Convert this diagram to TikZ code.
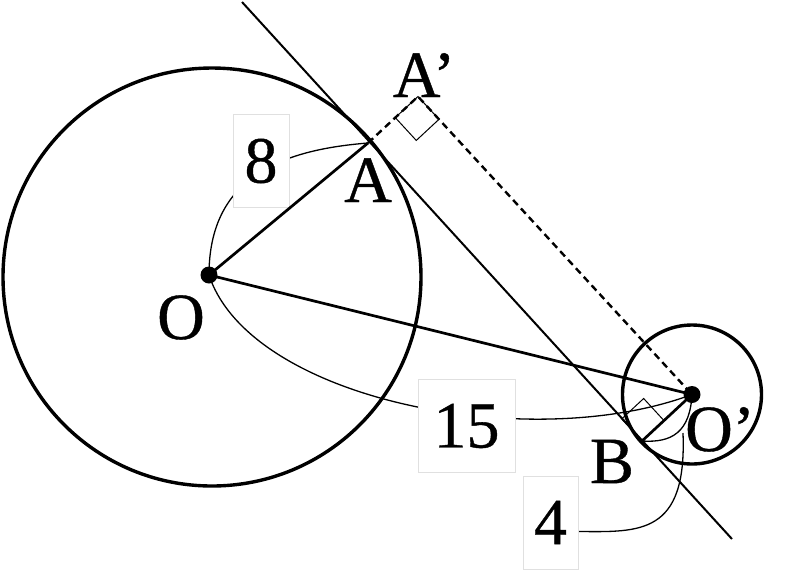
\documentclass[tikz,border=0pt]{standalone}
\usepackage{fontspec}
\setmainfont{Liberation Serif}[UprightFeatures={FakeBold=0.6}]
\usetikzlibrary{calc}
\pgfdeclarelayer{background}
\pgfsetlayers{background,main}
\begin{document}
\begin{tikzpicture}[x=0.5pt,y=-0.5pt,
  lbl/.style={font=\fontsize{33}{36}\selectfont, inner sep=0pt, anchor=base},
  numbox/.style={draw=black!12, line width=0.5pt, fill=white, font=\fontsize{33}{36}\selectfont, minimum height=46.5pt, inner sep=0pt},
  leader/.style={line width=0.65pt},
  geo/.style={line width=1.35pt},
  circ/.style={line width=1.7pt},
  tang/.style={line width=1pt},
  dsh/.style={line width=1.2pt, dash pattern=on 3.5pt off 2.3pt},
  ra/.style={line width=0.5pt}]
\useasboundingbox (0,0) rectangle (800,570);
% points
\coordinate (O) at (209,275);
\coordinate (Ocen) at (212,277);
\coordinate (A) at (368,143);
\coordinate (Ap) at (418,96.5);
\coordinate (Op) at (692,394.5);
\coordinate (B) at (642,441);
\coordinate (T1) at (242,2);
\coordinate (T2) at (732,539);
\coordinate (m4) at (683,433);
% number boxes
\node[numbox, minimum width=28pt] (n8) at (261,161) {8};
\node[numbox, minimum width=48.5pt] (n15) at (466.5,426) {15};
\node[numbox, minimum width=27.5pt] (n4) at (550.5,522.5) {4};
% leaders (behind boxes)
\begin{pgfonlayer}{background}
\draw[leader] (O) .. controls (209,178) and (280,150) .. (A);
\draw[leader] (O) .. controls (250,400) and (530,455) .. (Op);
\draw[leader] (B) .. controls (672,443) and (690,432) .. (Op);
\draw[leader] (m4) .. controls (687,535) and (640,532) .. ([yshift=-4.5pt]n4.east);
\end{pgfonlayer}
% circles
\draw[circ] (Ocen) circle[radius=104.5pt];
\draw[circ] (Op) circle[radius=34.75pt];
% tangent line
\draw[tang] (T1) -- (T2);
% radii and center line
\draw[geo] (O) -- (A);
\draw[geo] (O) -- (Op);
\draw[geo] (Op) -- (B);
% dashed construction
\draw[dsh] (A) -- (Ap) -- (Op);
% right angle marks
\coordinate (p1) at ($(Ap)!15.5pt!(A)$);
\coordinate (p2) at ($(Ap)!15.5pt!(Op)$);
\draw[ra] (Ap) -- (p1) -- ($(p1)+(p2)-(Ap)$) -- (p2) -- cycle;
\coordinate (q1) at ($(B)!15pt!(A)$);
\coordinate (q2) at ($(B)!15pt!(Op)$);
\draw[ra] (B) -- (q1) -- ($(q1)+(q2)-(B)$) -- (q2) -- cycle;
% dots
\fill (O) circle[radius=4.25pt];
\fill (Op) circle[radius=4.25pt];
% labels
\node[lbl] (lA) at (368,202) {A};
\node[lbl] (lAp) at (424,97) {A’};
\node[lbl] (lO) at (181,339) {O};
\node[lbl] (lOp) at (720,451) {O’};
\node[lbl] (lB) at (612,483) {B};
\end{tikzpicture}
\end{document}
